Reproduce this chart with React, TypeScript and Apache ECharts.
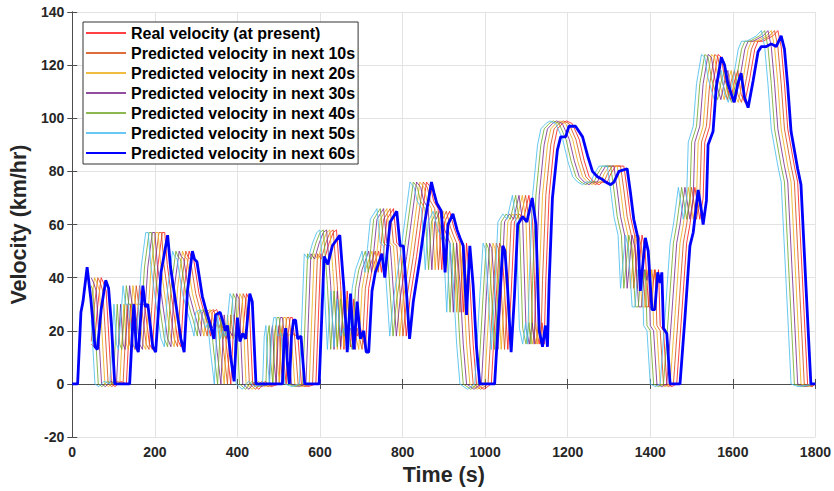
import React, { useEffect, useRef } from "react";
import * as echarts from "echarts";

// Tick labels / axes
const xTicks = [0, 200, 400, 600, 800, 1000, 1200, 1400, 1600, 1800];
const yTicks = [-20, 0, 20, 40, 60, 80, 100, 120, 140];

const seriesNames = [
  "Real velocity (at present)",
  "Predicted velocity in next 10s",
  "Predicted velocity in next 20s",
  "Predicted velocity in next 30s",
  "Predicted velocity in next 40s",
  "Predicted velocity in next 50s",
  "Predicted velocity in next 60s",
];

// [time s, velocity km/h]
const realVelocity = [[46,15],[53,14],[62,30],[70,40],[76,38],[82,35],[87,22],[95,0],[104,-1],[117,1],[131,0],[141,30],[147,15],[152,13],[163,37],[169,30],[175,30],[187,15],[194,13],[207,44],[218,57],[224,57],[230,45],[243,30],[255,17],[263,14],[271,36],[283,50],[288,48],[294,47],[307,34],[319,27],[325,24],[335,18],[339,27],[350,28],[356,25],[363,21],[368,23],[375,12],[384,0],[392,26],[398,17],[405,20],[412,18],[422,34],[428,32],[437,0],[452,-2],[467,1],[482,-1],[501,0],[505,18],[509,22],[513,8],[518,0],[523,19],[528,25],[533,25],[538,18],[546,19],[555,0],[572,-1],[590,0],[602,49],[611,47],[622,53],[632,57],[640,58],[650,37],[658,13],[666,35],[674,14],[682,32],[690,18],[698,21],[710,13],[718,36],[726,43],[742,50],[749,42],[755,51],[762,62],[778,66],[786,53],[794,52],[797,46],[809,18],[818,32],[834,48],[846,62],[858,76],[868,74],[875,69],[886,66],[895,43],[902,61],[914,65],[924,59],[931,56],[939,53],[947,27],[955,53],[963,38],[971,15],[979,0],[997,-2],[1015,0],[1027,33],[1035,53],[1040,51],[1046,38],[1055,13],[1063,34],[1071,61],[1083,64],[1093,62],[1106,71],[1115,61],[1123,21],[1131,15],[1138,23],[1143,15],[1147,39],[1155,71],[1167,90],[1175,96],[1187,98],[1197,99],[1211,98],[1228,92],[1240,84],[1252,78],[1264,76],[1276,75],[1284,76],[1296,76],[1304,79],[1316,82],[1336,82],[1344,73],[1352,63],[1362,56],[1368,36],[1380,56],[1387,51],[1396,29],[1403,29],[1410,43],[1416,39],[1420,43],[1424,22],[1432,20],[1440,0],[1452,-1],[1464,0],[1476,26],[1488,53],[1496,60],[1508,74],[1516,66],[1520,62],[1528,70],[1532,91],[1544,97],[1552,113],[1564,124],[1572,123],[1580,115],[1595,107],[1604,114],[1612,118],[1620,109],[1629,106],[1641,115],[1653,126],[1661,129],[1673,129],[1685,130],[1697,131],[1709,133],[1717,127],[1725,113],[1733,96],[1749,82],[1757,76],[1769,38],[1781,0],[1792,-1],[1800,0]];

const pred10 = [[46,16],[54,30],[62,40],[68,38],[74,35],[79,22],[87,0],[96,-1],[109,1],[123,0],[133,30],[139,15],[144,13],[155,37],[161,30],[167,30],[179,15],[186,13],[199,44],[210,57],[216,57],[222,45],[235,30],[247,17],[255,14],[263,36],[275,50],[280,48],[286,47],[299,34],[311,27],[317,24],[327,18],[331,27],[342,28],[348,25],[355,21],[360,23],[367,12],[376,0],[384,26],[390,17],[397,20],[404,18],[414,34],[420,32],[429,0],[444,-2],[459,1],[474,-1],[493,0],[497,18],[501,22],[505,8],[510,0],[515,19],[520,25],[525,25],[530,18],[538,19],[547,0],[564,-1],[582,0],[594,49],[603,47],[614,53],[624,57],[632,58],[642,37],[650,13],[658,35],[666,14],[674,32],[682,18],[690,21],[702,13],[710,36],[718,43],[734,50],[741,42],[747,51],[754,62],[770,66],[778,53],[786,52],[789,46],[801,18],[810,32],[826,48],[838,62],[850,76],[860,74],[867,69],[878,66],[887,43],[894,61],[906,65],[916,59],[923,56],[931,53],[939,27],[947,53],[955,38],[963,15],[971,0],[989,-2],[1007,0],[1019,33],[1027,53],[1032,51],[1038,38],[1047,13],[1055,34],[1063,61],[1075,64],[1085,62],[1098,71],[1107,61],[1115,21],[1123,15],[1130,23],[1135,15],[1139,39],[1147,71],[1159,90],[1167,96],[1179,98],[1189,99],[1203,98],[1220,92],[1232,84],[1244,78],[1256,76],[1268,75],[1276,76],[1288,76],[1296,79],[1308,82],[1328,82],[1336,73],[1344,63],[1354,56],[1360,36],[1372,56],[1379,51],[1388,29],[1395,29],[1402,43],[1408,39],[1412,43],[1416,22],[1424,20],[1432,0],[1444,-1],[1456,0],[1468,26],[1480,53],[1488,60],[1500,74],[1508,66],[1512,62],[1520,70],[1524,91],[1536,97],[1544,113],[1556,124],[1564,123],[1572,115],[1587,107],[1596,114],[1604,118],[1612,109],[1621,106],[1633,115],[1645,126],[1653,129],[1665,129],[1677,130],[1689,131],[1701,133],[1709,127],[1717,113],[1725,96],[1741,82],[1749,76],[1761,38],[1773,0],[1790,-1],[1800,0]];

const pred20 = [[46,30],[54,40],[60,38],[66,35],[71,22],[79,0],[88,-1],[101,1],[115,0],[125,30],[131,15],[136,13],[147,37],[153,30],[159,30],[171,15],[178,13],[191,44],[202,57],[208,57],[214,45],[227,30],[239,17],[247,14],[255,36],[267,50],[272,48],[278,47],[291,34],[303,27],[309,24],[319,18],[323,27],[334,28],[340,25],[347,21],[352,23],[359,12],[368,0],[376,26],[382,17],[389,20],[396,18],[406,34],[412,32],[421,0],[436,-2],[451,1],[466,-1],[485,0],[489,18],[493,22],[497,8],[502,0],[507,19],[512,25],[517,25],[522,18],[530,19],[539,0],[556,-1],[574,0],[586,49],[595,47],[606,53],[616,57],[624,58],[634,37],[642,13],[650,35],[658,14],[666,32],[674,18],[682,21],[694,13],[702,36],[710,43],[726,50],[733,42],[739,51],[746,62],[762,66],[770,53],[778,52],[781,46],[793,18],[802,32],[818,48],[830,62],[842,76],[852,74],[859,69],[870,66],[879,43],[886,61],[898,65],[908,59],[915,56],[923,53],[931,27],[939,53],[947,38],[955,15],[963,0],[981,-2],[999,0],[1011,33],[1019,53],[1024,51],[1030,38],[1039,13],[1047,34],[1055,61],[1067,64],[1077,62],[1090,71],[1099,61],[1107,21],[1115,15],[1122,23],[1127,15],[1131,39],[1139,71],[1151,90],[1159,96],[1171,98],[1181,99],[1195,98],[1212,92],[1224,84],[1236,78],[1248,76],[1260,75],[1268,76],[1280,76],[1288,79],[1300,82],[1320,82],[1328,73],[1336,63],[1346,56],[1352,36],[1364,56],[1371,51],[1380,29],[1387,29],[1394,43],[1400,39],[1404,43],[1408,22],[1416,20],[1424,0],[1436,-1],[1448,0],[1460,26],[1472,53],[1480,60],[1492,74],[1500,66],[1504,62],[1512,70],[1516,91],[1528,97],[1536,113],[1548,124],[1556,123],[1564,115],[1579,107],[1588,114],[1596,118],[1604,109],[1613,106],[1625,115],[1637,126],[1645,129],[1657,129],[1669,130],[1681,131],[1693,133],[1701,127],[1709,113],[1717,96],[1733,82],[1741,76],[1753,38],[1765,0],[1782,-1],[1800,0]];

const pred30 = [[46,40],[52,38],[58,35],[63,22],[71,0],[80,-1],[93,1],[107,0],[117,30],[123,15],[128,13],[139,37],[145,30],[151,30],[163,15],[170,13],[183,44],[194,57],[200,57],[206,45],[219,30],[231,17],[239,14],[247,36],[259,50],[264,48],[270,47],[283,34],[295,27],[301,24],[311,18],[315,27],[326,28],[332,25],[339,21],[344,23],[351,12],[360,0],[368,26],[374,17],[381,20],[388,18],[398,34],[404,32],[413,0],[428,-2],[443,1],[458,-1],[477,0],[481,18],[485,22],[489,8],[494,0],[499,19],[504,25],[509,25],[514,18],[522,19],[531,0],[548,-1],[566,0],[578,49],[587,47],[598,53],[608,57],[616,58],[626,37],[634,13],[642,35],[650,14],[658,32],[666,18],[674,21],[686,13],[694,36],[702,43],[718,50],[725,42],[731,51],[738,62],[754,66],[762,53],[770,52],[773,46],[785,18],[794,32],[810,48],[822,62],[834,76],[844,74],[851,69],[862,66],[871,43],[878,61],[890,65],[900,59],[907,56],[915,53],[923,27],[931,53],[939,38],[947,15],[955,0],[973,-2],[991,0],[1003,33],[1011,53],[1016,51],[1022,38],[1031,13],[1039,34],[1047,61],[1059,64],[1069,62],[1082,71],[1091,61],[1099,21],[1107,15],[1114,23],[1119,15],[1123,39],[1131,71],[1143,90],[1151,96],[1163,98],[1173,99],[1187,98],[1204,92],[1216,84],[1228,78],[1240,76],[1252,75],[1260,76],[1272,76],[1280,79],[1292,82],[1312,82],[1320,73],[1328,63],[1338,56],[1344,36],[1356,56],[1363,51],[1372,29],[1379,29],[1386,43],[1392,39],[1396,43],[1400,22],[1408,20],[1416,0],[1428,-1],[1440,0],[1452,26],[1464,53],[1472,60],[1484,74],[1492,66],[1496,62],[1504,70],[1508,91],[1520,97],[1528,113],[1540,124],[1548,123],[1556,115],[1571,107],[1580,114],[1588,118],[1596,109],[1605,106],[1617,115],[1629,126],[1637,129],[1649,129],[1661,130],[1673,131],[1685,133],[1693,127],[1701,113],[1709,96],[1725,82],[1733,76],[1745,38],[1757,0],[1774,-1],[1800,0]];

const pred40 = [[46,37],[50,35],[55,22],[63,0],[72,-1],[85,1],[99,0],[109,30],[115,15],[120,13],[131,37],[137,30],[143,30],[155,15],[162,13],[175,44],[186,57],[192,57],[198,45],[211,30],[223,17],[231,14],[239,36],[251,50],[256,48],[262,47],[275,34],[287,27],[293,24],[303,18],[307,27],[318,28],[324,25],[331,21],[336,23],[343,12],[352,0],[360,26],[366,17],[373,20],[380,18],[390,34],[396,32],[405,0],[420,-2],[435,1],[450,-1],[469,0],[473,18],[477,22],[481,8],[486,0],[491,19],[496,25],[501,25],[506,18],[514,19],[523,0],[540,-1],[558,0],[570,49],[579,47],[590,53],[600,57],[608,58],[618,37],[626,13],[634,35],[642,14],[650,32],[658,18],[666,21],[678,13],[686,36],[694,43],[710,50],[717,42],[723,51],[730,62],[746,66],[754,53],[762,52],[765,46],[777,18],[786,32],[802,48],[814,62],[826,76],[836,74],[843,69],[854,66],[863,43],[870,61],[882,65],[892,59],[899,56],[907,53],[915,27],[923,53],[931,38],[939,15],[947,0],[965,-2],[983,0],[995,33],[1003,53],[1008,51],[1014,38],[1023,13],[1031,34],[1039,61],[1051,64],[1061,62],[1074,71],[1083,61],[1091,21],[1099,15],[1106,23],[1111,15],[1115,39],[1123,71],[1135,90],[1143,96],[1155,98],[1165,99],[1179,98],[1196,92],[1208,84],[1220,78],[1232,76],[1244,75],[1252,76],[1264,76],[1272,79],[1284,82],[1304,82],[1312,73],[1320,63],[1330,56],[1336,36],[1348,56],[1355,51],[1364,29],[1371,29],[1378,43],[1384,39],[1388,43],[1392,22],[1400,20],[1408,0],[1420,-1],[1432,0],[1444,26],[1456,53],[1464,60],[1476,74],[1484,66],[1488,62],[1496,70],[1500,91],[1512,97],[1520,113],[1532,124],[1540,123],[1548,115],[1563,107],[1572,114],[1580,118],[1588,109],[1597,106],[1609,115],[1621,126],[1629,129],[1641,129],[1653,130],[1665,131],[1677,133],[1685,127],[1693,113],[1701,96],[1717,82],[1725,76],[1737,38],[1749,0],[1766,-1],[1800,0]];

const pred50 = [[46,24],[55,0],[64,-1],[77,1],[91,0],[101,30],[107,15],[112,13],[123,37],[129,30],[135,30],[147,15],[154,13],[167,44],[178,57],[184,57],[190,45],[203,30],[215,17],[223,14],[231,36],[243,50],[248,48],[254,47],[267,34],[279,27],[285,24],[295,18],[299,27],[310,28],[316,25],[323,21],[328,23],[335,12],[344,0],[352,26],[358,17],[365,20],[372,18],[382,34],[388,32],[397,0],[412,-2],[427,1],[442,-1],[461,0],[465,18],[469,22],[473,8],[478,0],[483,19],[488,25],[493,25],[498,18],[506,19],[515,0],[532,-1],[550,0],[562,49],[571,47],[582,53],[592,57],[600,58],[610,37],[618,13],[626,35],[634,14],[642,32],[650,18],[658,21],[670,13],[678,36],[686,43],[702,50],[709,42],[715,51],[722,62],[738,66],[746,53],[754,52],[757,46],[769,18],[778,32],[794,48],[806,62],[818,76],[828,74],[835,69],[846,66],[855,43],[862,61],[874,65],[884,59],[891,56],[899,53],[907,27],[915,53],[923,38],[931,15],[939,0],[957,-2],[975,0],[987,33],[995,53],[1000,51],[1006,38],[1015,13],[1023,34],[1031,61],[1043,64],[1053,62],[1066,71],[1075,61],[1083,21],[1091,15],[1098,23],[1103,15],[1107,39],[1115,71],[1127,90],[1135,96],[1147,98],[1157,99],[1171,98],[1188,92],[1200,84],[1212,78],[1224,76],[1236,75],[1244,76],[1256,76],[1264,79],[1276,82],[1296,82],[1304,73],[1312,63],[1322,56],[1328,36],[1340,56],[1347,51],[1356,29],[1363,29],[1370,43],[1376,39],[1380,43],[1384,22],[1392,20],[1400,0],[1412,-1],[1424,0],[1436,26],[1448,53],[1456,60],[1468,74],[1476,66],[1480,62],[1488,70],[1492,91],[1504,97],[1512,113],[1524,124],[1532,123],[1540,115],[1555,107],[1564,114],[1572,118],[1580,109],[1589,106],[1601,115],[1613,126],[1621,129],[1633,129],[1645,130],[1657,131],[1669,133],[1677,127],[1685,113],[1693,96],[1709,82],[1717,76],[1729,38],[1741,0],[1758,-1],[1800,0]];

const pred60 = [[0,0],[13,0],[21,27],[26,31],[36,44],[45,32],[55,14],[61,13],[70,28],[81,39],[88,36],[95,22],[103,0],[139,0],[149,30],[155,14],[160,12],[171,37],[177,29],[183,30],[195,14],[202,12],[215,42],[231,56],[238,44],[251,30],[263,17],[271,12],[279,35],[291,50],[296,47],[302,46],[315,33],[327,26],[333,23],[343,17],[347,26],[358,27],[364,24],[371,20],[376,22],[383,11],[392,1],[400,25],[406,16],[413,19],[420,17],[430,34],[436,31],[445,0],[509,0],[513,17],[517,21],[521,8],[526,0],[531,18],[536,24],[541,24],[546,17],[554,18],[563,0],[598,0],[610,48],[619,45],[630,52],[648,56],[658,36],[666,12],[674,34],[682,13],[690,31],[698,17],[706,20],[712,12],[718,12],[726,35],[734,42],[750,49],[757,40],[763,50],[770,61],[786,65],[794,52],[802,52],[805,45],[817,17],[826,31],[842,47],[854,61],[870,76],[876,72],[883,68],[894,65],[903,42],[910,60],[922,64],[932,58],[939,55],[947,52],[955,26],[963,52],[971,37],[979,14],[987,0],[1023,0],[1035,32],[1043,52],[1048,50],[1054,37],[1063,12],[1071,33],[1079,60],[1091,63],[1101,61],[1114,70],[1123,60],[1131,20],[1139,14],[1146,22],[1151,14],[1155,38],[1163,70],[1175,88],[1183,93],[1195,93],[1203,97],[1219,97],[1236,93],[1248,86],[1260,80],[1272,78],[1284,77],[1292,76],[1304,75],[1312,76],[1324,80],[1344,81],[1352,72],[1360,62],[1370,55],[1376,35],[1388,55],[1395,50],[1404,28],[1411,28],[1418,42],[1424,38],[1428,42],[1432,21],[1440,19],[1448,0],[1472,0],[1484,25],[1496,52],[1504,57],[1516,73],[1524,65],[1528,60],[1536,69],[1540,90],[1552,95],[1560,112],[1572,123],[1580,120],[1588,113],[1603,106],[1612,113],[1620,117],[1628,108],[1637,104],[1649,114],[1661,125],[1669,127],[1681,127],[1693,128],[1705,127],[1717,131],[1725,126],[1733,112],[1741,95],[1757,81],[1765,75],[1777,37],[1789,0],[1800,0]];

const seriesData = [realVelocity, pred10, pred20, pred30, pred40, pred50, pred60];
const seriesColors = ["#ff2020", "#d95319", "#edb120", "#7e2f8e", "#77ac30", "#4dbeee", "#0000ff"];
const seriesWidths = [1, 1, 1, 1, 1, 1, 2.8];

const FONT = "'Liberation Sans', Arial, Helvetica, sans-serif";

export default function App() {
  const ref = useRef<HTMLDivElement>(null);
  useEffect(() => {
    if (!ref.current) return;
    const chart = echarts.init(ref.current, undefined, { renderer: "svg" });
    const axisLabel = {
      fontFamily: FONT, fontWeight: "bold", fontSize: 14, color: "#262626",
      formatter: (v: number) => String(v),
    };
    const axisLine = { show: true, lineStyle: { color: "#4d4d4d", width: 1 } };
    const tick = { show: true, inside: true, length: 5, lineStyle: { color: "#4d4d4d" } };
    const xMin = xTicks[0], xMax = xTicks[xTicks.length - 1];
    const yMin = yTicks[0], yMax = yTicks[yTicks.length - 1];
    chart.setOption({
      animation: false,
      backgroundColor: "#fff",
      grid: { left: 70, right: 16, top: 12, bottom: 50, containLabel: false },
      legend: {
        orient: "vertical",
        left: 83,
        top: 22,
        padding: [3, 3, 3, 2],
        itemGap: 4,
        itemWidth: 40,
        itemHeight: 14,
        backgroundColor: "#fff",
        borderColor: "#333",
        borderWidth: 1,
        borderRadius: 0,
        itemStyle: { opacity: 0 },
        textStyle: { fontFamily: FONT, fontWeight: "bold", fontSize: 16, color: "#000" },
        data: seriesNames,
      },
      xAxis: [
        {
          type: "value", min: xMin, max: xMax, interval: 200,
          name: "Time (s)", nameLocation: "middle", nameGap: 17,
          nameTextStyle: { fontFamily: FONT, fontWeight: "bold", fontSize: 21.5, color: "#262626" },
          axisLine, axisTick: tick,
          axisLabel: { ...axisLabel, margin: 8 },
          splitLine: { show: true, lineStyle: { color: "#e3e3e3", width: 1 } },
        },
        {
          type: "value", position: "top", min: xMin, max: xMax, interval: 200,
          axisLine, axisTick: tick, axisLabel: { show: false }, splitLine: { show: false },
        },
      ],
      yAxis: [
        {
          type: "value", min: yMin, max: yMax, interval: 20,
          name: "Velocity (km/hr)", nameLocation: "middle", nameGap: 41,
          nameTextStyle: { fontFamily: FONT, fontWeight: "bold", fontSize: 21.5, color: "#262626" },
          axisLine, axisTick: tick,
          axisLabel: { ...axisLabel, margin: 8 },
          splitLine: { show: true, lineStyle: { color: "#e3e3e3", width: 1 } },
        },
        {
          type: "value", position: "right", min: yMin, max: yMax, interval: 20,
          axisLine, axisTick: tick, axisLabel: { show: false }, splitLine: { show: false },
        },
      ],
      series: seriesData.map((d, i) => ({
        name: seriesNames[i],
        type: "line",
        data: d,
        showSymbol: false,
        symbol: "none",
        clip: true,
        z: i === 6 ? 10 : 2 + i,
        color: seriesColors[i],
        lineStyle: { color: seriesColors[i], width: seriesWidths[i], opacity: i === 6 ? 1 : 0.85 },
        emphasis: { disabled: true },
      })),
    });
    return () => chart.dispose();
  }, []);
  return <div ref={ref} style={{ position: "fixed", left: 0, top: 0, width: 834, height: 491 }} />;
}
